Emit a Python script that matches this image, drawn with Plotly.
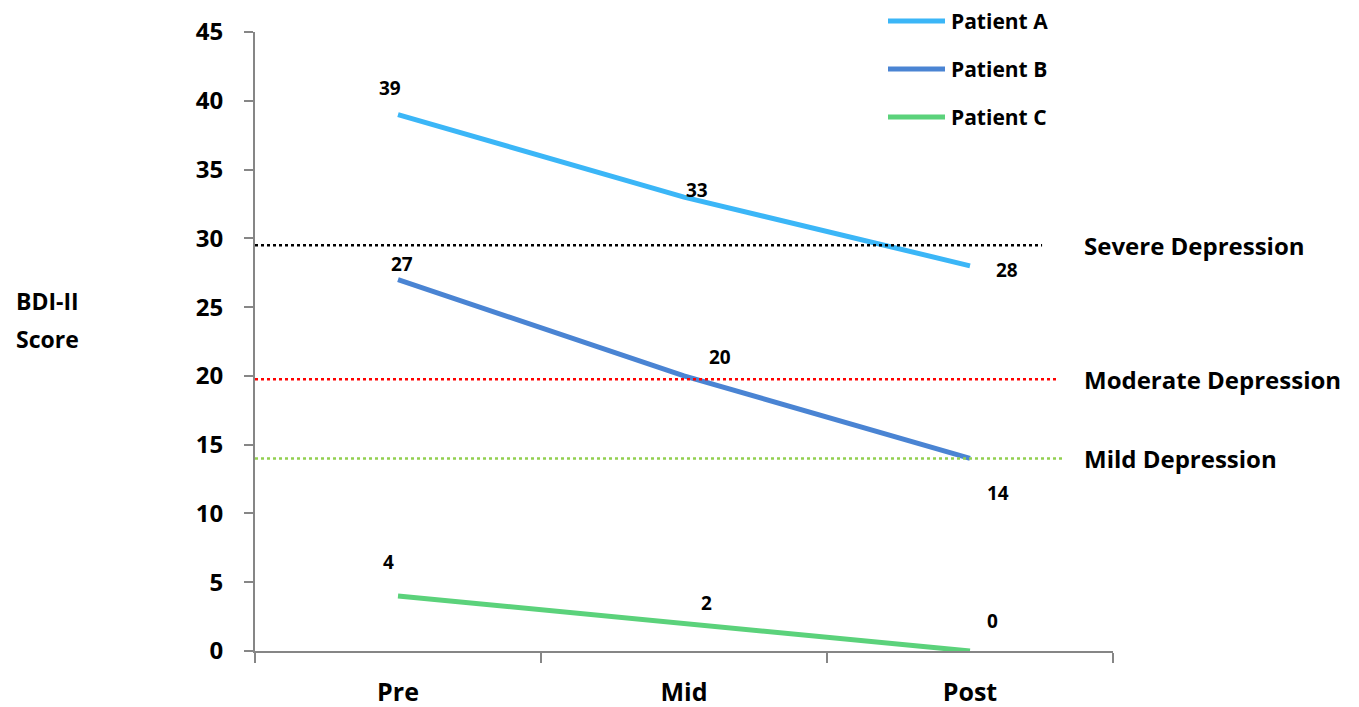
import plotly.graph_objects as go

# Assessment points and BDI-II scores per patient
phases = ["Pre", "Mid", "Post"]
patient_a = [39, 33, 28]
patient_b = [27, 20, 14]
patient_c = [4, 2, 0]
series_names = ["Patient A", "Patient B", "Patient C"]

# Severity cut-offs
threshold_names = ["Severe Depression", "Moderate Depression", "Mild Depression"]
threshold_values = [29.5, 19.75, 14]

y_ticks = [0, 5, 10, 15, 20, 25, 30, 35, 40, 45]

FONT = "Open Sans"
colors = ["#3BB6F7", "#4A84D3", "#5BD27B"]
threshold_colors = ["#000000", "#FF0000", "#92D050"]
threshold_ends = [2.252, 2.31, 2.322]

# plot area in pixels
L, R, T, B = 255, 1113, 32, 651
PW, PH = R - L, B - T


def px_x(px):
    return (px - L) / PW


def px_y(py):
    return (B - py) / PH


# label offsets (px) for the value annotations of each series
label_offsets = [
    [(-8, -27), (13, -7), (37, 4)],
    [(4, -16), (36, -19), (28, 35)],
    [(-10, -34), (22, -20), (22, -30)],
]

fig = go.Figure()

for name, vals, col in zip(series_names, [patient_a, patient_b, patient_c], colors):
    fig.add_trace(go.Scatter(
        x=phases, y=vals, name=name, mode="lines",
        line=dict(color=col, width=5),
        cliponaxis=False, showlegend=False,
    ))

# legend drawn in paper space so it sits above the plot without shifting it
for k, (name, col) in enumerate(zip(series_names, colors)):
    ly = 21 + 48 * k
    fig.add_shape(type="line", xref="paper", yref="paper",
                  x0=px_x(888), x1=px_x(945), y0=px_y(ly), y1=px_y(ly),
                  line=dict(color=col, width=5))
    fig.add_annotation(text=f"<b>{name}</b>", xref="paper", yref="paper",
                       x=px_x(949), y=px_y(ly), xanchor="left", yanchor="middle",
                       showarrow=False, font=dict(family=FONT, size=21, color="#000"))

for val, col, end in zip(threshold_values, threshold_colors, threshold_ends):
    fig.add_shape(type="line", xref="x", yref="y",
                  x0=-0.5, x1=end, y0=val, y1=val,
                  line=dict(color=col, width=2.5, dash="dot"))

for name, val in zip(threshold_names, threshold_values):
    fig.add_annotation(text=f"<b>{name}</b>", xref="paper", yref="y",
                       x=px_x(1082), y=val, xanchor="left", yanchor="middle",
                       showarrow=False, font=dict(family=FONT, size=24, color="#000"))

for vals, offs in zip([patient_a, patient_b, patient_c], label_offsets):
    for i, (v, (dx, dy)) in enumerate(zip(vals, offs)):
        fig.add_annotation(text=f"<b>{v}</b>", x=i, y=v, xref="x", yref="y",
                           xshift=dx, yshift=-dy, showarrow=False,
                           font=dict(family=FONT, size=19, color="#000"))

fig.add_annotation(text="<b>BDI-II</b>", xref="paper", yref="paper",
                   x=px_x(14), y=px_y(301), xanchor="left", yanchor="middle",
                   showarrow=False, font=dict(family=FONT, size=23, color="#000"))
fig.add_annotation(text="<b>Score</b>", xref="paper", yref="paper",
                   x=px_x(14), y=px_y(339), xanchor="left", yanchor="middle",
                   showarrow=False, font=dict(family=FONT, size=23, color="#000"))

fig.update_xaxes(
    type="category", range=[-0.5, 2.5], automargin=False,
    showline=True, linecolor="#868686", linewidth=2,
    ticks="outside", tickson="boundaries", ticklen=10, tickcolor="#868686", tickwidth=1.5,
    ticklabelstandoff=18,
    showgrid=False, zeroline=False,
    tickfont=dict(family=FONT, size=25, color="#000", weight="bold"),
)
fig.update_yaxes(
    range=[0, 45], tickvals=y_ticks, automargin=False,
    showline=True, linecolor="#868686", linewidth=2,
    ticks="outside", ticklen=9, tickcolor="#868686", tickwidth=1.5,
    ticklabelstandoff=16,
    showgrid=False, zeroline=False,
    tickfont=dict(family=FONT, size=24, color="#000", weight="bold"),
)

fig.update_layout(
    width=1359, height=707,
    margin=dict(l=L, r=1359 - R, t=T, b=707 - B),
    paper_bgcolor="white", plot_bgcolor="white",
    showlegend=False,
)

fig.write_html("out.html")
